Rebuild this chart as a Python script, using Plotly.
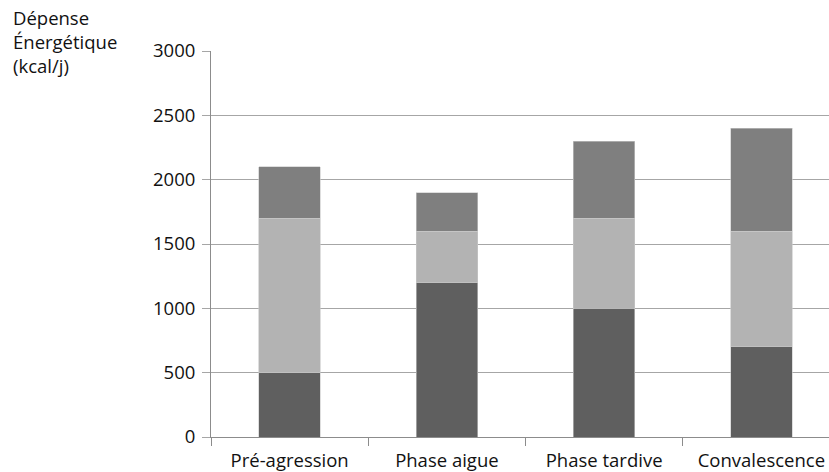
import plotly.graph_objects as go

categories = ["Pré-agression", "Phase aigue", "Phase tardive", "Convalescence"]
base_values = [500, 1200, 1000, 700]
middle_values = [1200, 400, 700, 900]
top_values = [400, 300, 600, 800]
y_ticks = [0, 500, 1000, 1500, 2000, 2500, 3000]

colors = ["#5f5f5f", "#b3b3b3", "#7f7f7f"]
font_family = "Open Sans, Noto Sans, sans-serif"
fsize = 18.5

fig = go.Figure()
for vals, col in zip([base_values, middle_values, top_values], colors):
    fig.add_trace(go.Bar(
        x=categories, y=vals, marker=dict(color=col, line=dict(color="#c8c8c8", width=0.6)),
        width=0.39, showlegend=False,
    ))

fig.update_layout(
    barmode="stack",
    width=829, height=472,
    margin=dict(l=211, r=0, t=51, b=35),
    plot_bgcolor="white", paper_bgcolor="white",
    font=dict(family=font_family, size=fsize, color="#111111"),
    xaxis=dict(
        range=[-0.5, 3.43], showgrid=False, showline=True, linecolor="#8c8c8c", linewidth=1,
        ticks="outside", tickson="boundaries", ticklen=8, tickcolor="#8c8c8c",
        tickfont=dict(size=fsize), ticklabelstandoff=7,
    ),
    yaxis=dict(
        range=[0, 3000], tickvals=y_ticks, showgrid=True, gridcolor="#a6a6a6", gridwidth=1,
        showline=True, linecolor="#8c8c8c", linewidth=1, zeroline=False,
        ticks="outside", ticklen=8, tickcolor="#a6a6a6", tickfont=dict(size=fsize),
        ticklabelstandoff=3,
    ),
    annotations=[dict(
        text="Dépense<br>Énergétique<br>(kcal/j)", xref="paper", yref="paper",
        x=-200 / 618, y=1 + 48 / 386, xanchor="left", yanchor="top", align="left",
        showarrow=False, font=dict(size=fsize, family=font_family, color="#111111"),
    )],
)

fig.write_html("out.html")
